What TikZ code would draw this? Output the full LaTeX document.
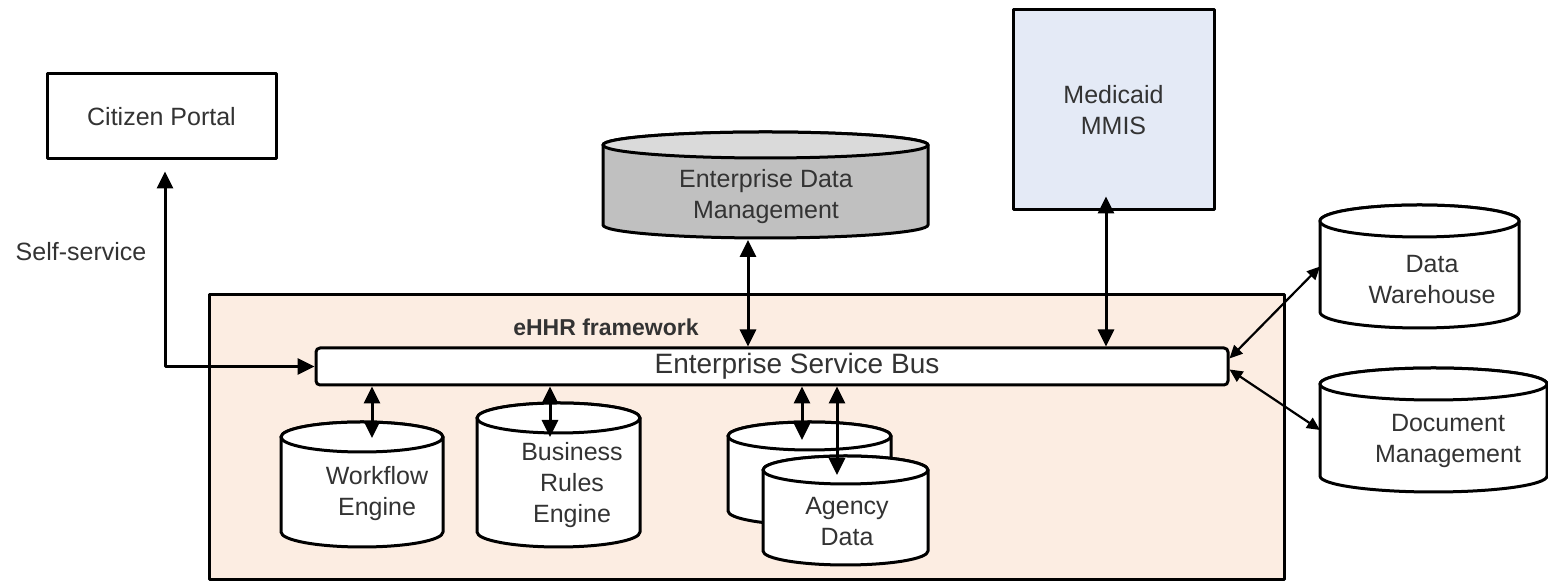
\documentclass[tikz,border=0pt]{standalone}
\usepackage{fontspec}
\setmainfont{Liberation Sans}
\usetikzlibrary{arrows.meta}
\definecolor{peach}{RGB}{252,237,226}
\definecolor{mmisblue}{RGB}{228,234,246}
\definecolor{edmgray}{RGB}{192,192,192}
\definecolor{edmtop}{RGB}{218,218,218}
\definecolor{ink}{RGB}{51,51,51}
% drum: name, left x, bottom y, width, height, y radius, body fill, top fill
\newcommand{\drum}[8]{%
  \pgfmathsetmacro{\drx}{#4/2}
  \filldraw[fill=#7] (#2,#3+#6) arc[start angle=180,end angle=360,x radius=\drx,y radius=#6]
    -- (#2+#4,#3+#5-#6) arc[start angle=0,end angle=180,x radius=\drx,y radius=#6] -- cycle;
  \filldraw[fill=#8] (#2+\drx,#3+#5-#6) ellipse[x radius=\drx,y radius=#6];
  \coordinate (#1-top) at (#2+\drx,#3+#5);
  \coordinate (#1-bot) at (#2+\drx,#3);
  \coordinate (#1-west) at (#2,#3+#5/2);
}
\begin{document}
\begin{tikzpicture}[x=0.5pt, y=0.5pt, line width=1.5pt, line join=round,
    >={Triangle[width=8pt,length=8.5pt]},
    font=\fontsize{12.5}{15.5}\selectfont,
    txt/.style={align=center, text=ink, inner sep=0pt},
    thinarr/.style={line width=1.1pt, >={Triangle[width=6pt,length=6.5pt]}}]
  \useasboundingbox (0,0) rectangle (1548,582);
  % eHHR framework
  \node[draw, fill=peach, minimum width=537.5pt, minimum height=142.5pt, inner sep=0pt] (frame) at (746.5,144.5) {};
  \node[txt, font=\fontsize{11.5}{14}\selectfont\bfseries] (framelbl) at (606,255) {eHHR framework};
  \node[draw, fill=white, rounded corners=2pt, minimum width=456pt, minimum height=18.5pt, inner sep=0pt] (esb) at (772,215.5) {};
  \node[txt, font=\fontsize{14}{16}\selectfont] (esblbl) at (797,215.5) {Enterprise Service Bus};
  % outside boxes
  \node[draw, fill=white, minimum width=114.5pt, minimum height=42.5pt, txt] (portal) at (161.5,465.5) {Citizen Portal};
  \node[txt] (selfsvc) at (81,330) {Self-service};
  \node[draw, fill=mmisblue, minimum width=100.5pt, minimum height=100pt, txt] (mmis) at (1113.5,472) {Medicaid\\MMIS};
  % data stores
  \drum{edm}{603}{344}{325}{106}{13}{edmgray}{edmtop}
  \node[txt] (edmlbl) at (766,385) {Enterprise Data\\Management};
  \drum{dw}{1320}{254}{199}{123}{16}{white}{white}
  \node[txt] (dwlbl) at (1432,302) {Data\\Warehouse};
  \drum{dm}{1320}{90}{227}{124}{16}{white}{white}
  \node[txt] (dmlbl) at (1448,141) {Document\\Management};
  \drum{wf}{281}{35}{162}{125}{15}{white}{white}
  \node[txt] (wflbl) at (377,88) {Workflow\\Engine};
  \drum{bre}{477}{35}{163}{144}{15}{white}{white}
  \node[txt] (brelbl) at (572,97) {Business\\Rules\\Engine};
  \drum{agb}{728}{57}{163}{103}{14}{white}{white}
  \drum{agf}{763}{17}{165}{109}{14}{white}{white}
  \node[txt] (aglbl) at (847,60) {Agency\\Data};
  % connectors
  \draw[<->] ([shift={(3.5,-11)}]portal.south) |- (esb.west);
  \draw[<->] ([shift={(-17.5,-2)}]edm-bot) coordinate (edmar) -- (edmar |- esb.north);
  \draw[<->] ([shift={(-7.5,15)}]mmis.south) coordinate (mmar) -- (mmar |- esb.north);
  \draw[<->] ([shift={(10,-16)}]wf-top) coordinate (wfar) -- (wfar |- esb.south);
  \draw[<->] ([shift={(-8.5,-34)}]bre-top) coordinate (brear) -- (brear |- esb.south);
  \draw[<->] ([shift={(-7.5,-18)}]agb-top) coordinate (agbar) -- (agbar |- esb.south);
  \draw[<->] ([shift={(-8.5,-19)}]agf-top) coordinate (agfar) -- (agfar |- esb.south);
  \draw[<->, thinarr] ([yshift=4pt]esb.east) -- (dw-west);
  \draw[<->, thinarr] ([yshift=-1.5pt]esb.east) -- (dm-west);
\end{tikzpicture}
\end{document}
